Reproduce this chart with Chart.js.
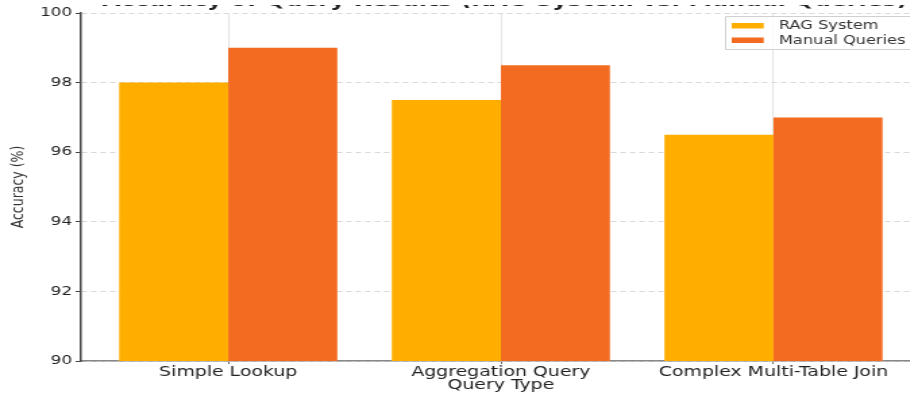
<!DOCTYPE html>
<html>
<head>
<meta charset="utf-8">
<script src="https://cdn.jsdelivr.net/npm/chart.js@4.4.0/dist/chart.umd.min.js"></script>
<style>
  html, body { margin: 0; padding: 0; background: #fff; overflow: hidden; }
  #wrap { position: relative; width: 910px; height: 394px; overflow: hidden; }
  /* the original picture is a horizontally stretched export, so stretch the canvas the same way */
  #accChart { transform: scaleX(1.35); transform-origin: 0 0; }
</style>
</head>
<body>
<div id="wrap"><canvas id="accChart" width="682" height="394"></canvas></div>
<script>
const categories = ['Simple Lookup', 'Aggregation Query', 'Complex Multi-Table Join'];
const ragValues = [98, 97.5, 96.5];
const manualValues = [99, 98.5, 97];
const seriesNames = ['RAG System', 'Manual Queries'];
const yTicks = [90, 92, 94, 96, 98, 100];
const titleText = 'Accuracy of Query Results (RAG System vs. Manual Queries)';

const colors = ['#FFAE00', '#F26B21'];

// title sits above the top edge; only the bottoms of the letters show, as in the cropped original
const titlePlugin = {
  id: 'cutTitle',
  afterDraw(chart) {
    const c = chart.ctx;
    const area = chart.chartArea;
    c.save();
    c.beginPath();
    c.rect(0, 5, chart.width, 8);
    c.clip();
    c.font = 'bold 17.5px "DejaVu Sans"';
    c.fillStyle = '#222';
    c.textAlign = 'center';
    c.textBaseline = 'alphabetic';
    c.fillText(titleText, (area.left + area.right) / 2 + 3, 6);
    c.restore();
  }
};

// legend drawn inside the plot, top right; its right side runs off the picture
const legendPlugin = {
  id: 'innerLegend',
  afterDraw(chart) {
    const c = chart.ctx;
    const x0 = 537.5, y0 = 16.5, y1 = 49.5, x1 = chart.width + 5;
    c.save();
    c.fillStyle = 'rgba(255,255,255,0.85)';
    c.fillRect(x0, y0, x1 - x0, y1 - y0);
    c.strokeStyle = '#d0d0d0';
    c.lineWidth = 1;
    c.beginPath();
    c.moveTo(x1, y0);
    c.lineTo(x0, y0);
    c.lineTo(x0, y1);
    c.lineTo(x1, y1);
    c.stroke();
    c.font = '12px "DejaVu Sans"';
    c.textBaseline = 'middle';
    chart.data.datasets.forEach((ds, i) => {
      const y = 23 + i * 14.5;
      c.fillStyle = ds.backgroundColor;
      c.fillRect(542, y, 23.7, 5.5);
      c.fillStyle = '#333';
      c.fillText(ds.label, 577, y + 3);
    });
    c.restore();
  }
};

const onCategory = (ctx) => ctx.tick && Number.isInteger(ctx.tick.value) && ctx.tick.value >= 0 && ctx.tick.value < categories.length;

const ctx = document.getElementById('accChart').getContext('2d');
const chart = new Chart(ctx, {
  type: 'bar',
  data: {
    datasets: [
      {
        label: seriesNames[0],
        data: ragValues.map((v, i) => ({ x: i, y: v })),
        backgroundColor: colors[0]
      },
      {
        label: seriesNames[1],
        data: manualValues.map((v, i) => ({ x: i, y: v })),
        backgroundColor: colors[1]
      }
    ]
  },
  options: {
    responsive: false,
    animation: false,
    layout: { padding: { top: 13, right: 0, bottom: 0, left: 0 } },
    datasets: { bar: { barPercentage: 1, categoryPercentage: 0.8 } },
    plugins: {
      legend: { display: false },
      title: { display: false },
      tooltip: { enabled: false }
    },
    scales: {
      x: {
        type: 'linear',
        min: -0.54,
        max: 2.54,
        offset: false,
        afterBuildTicks(scale) {
          scale.ticks = categories.map((_, i) => ({ value: i }));
        },
        afterFit(scale) { scale.height = 33; },
        ticks: {
          font: { family: 'DejaVu Sans', size: 14 },
          color: '#222',
          padding: 0,
          maxRotation: 0,
          callback: (v) => categories[v]
        },
        grid: {
          offset: false,
          color: (c) => onCategory(c) ? '#dcdcdc' : 'rgba(0,0,0,0)',
          lineWidth: 0.8,
          tickLength: 3,
          tickColor: (c) => onCategory(c) ? '#444' : 'rgba(0,0,0,0)'
        },
        border: { color: '#888', width: 1.5 },
        title: {
          display: true,
          text: 'Query Type',
          font: { family: 'DejaVu Sans', size: 14 },
          color: '#222',
          padding: { top: -4, bottom: 0 }
        }
      },
      y: {
        min: 90,
        max: 100,
        afterBuildTicks(scale) {
          scale.ticks = yTicks.map(v => ({ value: v }));
        },
        afterFit(scale) { scale.width = 60; },
        ticks: {
          font: { family: 'DejaVu Sans', size: 12.5 },
          color: '#222',
          padding: 2.5
        },
        grid: {
          color: '#d8d8d8',
          lineWidth: 1,
          tickLength: 4,
          tickColor: '#444',
          tickBorderDash: []
        },
        border: { color: '#444', width: 1.5, dash: [4, 3] },
        title: {
          display: true,
          text: 'Accuracy (%)',
          font: { family: 'DejaVu Sans', size: 12.5 },
          color: '#333',
          padding: { top: 6, bottom: 0 }
        }
      }
    }
  },
  plugins: [titlePlugin, legendPlugin]
});
</script>
</body>
</html>
